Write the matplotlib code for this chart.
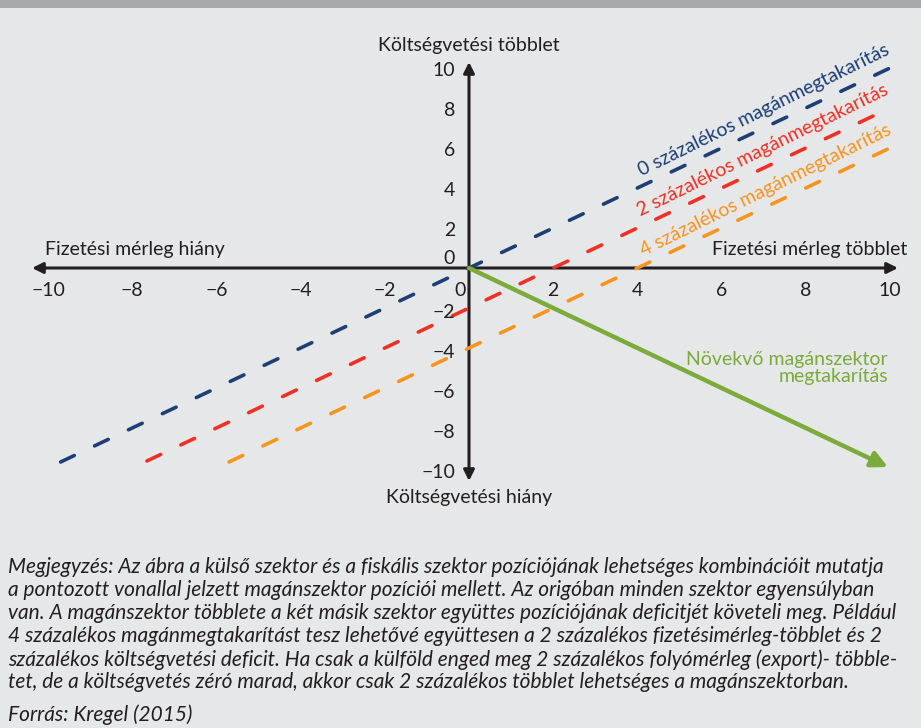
import matplotlib

matplotlib.use("Agg")
import matplotlib.pyplot as plt
from matplotlib.patches import Rectangle

# --- data --------------------------------------------------------------
TICKS = [-10, -8, -6, -4, -2, 0, 2, 4, 6, 8, 10]

# private-saving lines: 0 %, 2 % and 4 % (budget balance vs current account)
LINE_NAMES = [
    "0 százalékos magánmegtakarítás",
    "2 százalékos magánmegtakarítás",
    "4 százalékos magánmegtakarítás",
]
LINE_X = [[-9.7, 10.05], [-7.65, 10.05], [-5.7, 10.05]]
LINE_Y = [[-9.7, 10.05], [-9.65, 8.05], [-9.7, 6.05]]
LABEL_XY = [(7.0, 7.9), (6.98, 5.9), (7.05, 3.9)]

# growing private saving arrow
GREEN_X = [0.0, 9.95]
GREEN_Y = [0.0, -9.95]

NOTE = [
    "Megjegyzés: Az ábra a külső szektor és a fiskális szektor pozíciójának lehetséges kombinációit mutatja",
    "a pontozott vonallal jelzett magánszektor pozíciói mellett. Az origóban minden szektor egyensúlyban",
    "van. A magánszektor többlete a két másik szektor együttes pozíciójának deficitjét követeli meg. Például",
    "4 százalékos magánmegtakarítást tesz lehetővé együttesen a 2 százalékos fizetésimérleg-többlet és 2",
    "százalékos költségvetési deficit. Ha csak a külföld enged meg 2 százalékos folyómérleg (export)- többle-",
    "tet, de a költségvetés zéró marad, akkor csak 2 százalékos többlet lehetséges a magánszektorban.",
]
SOURCE = "Forrás: Kregel (2015)"

COLORS = ["#1d3f76", "#ee3124", "#f7941d"]
GREEN = "#7aab3b"
INK = "#231f20"
BG = "#e6e7e8"

W, H = 921, 728
OX, OY = 469, 268  # origin in pixels
SX, SY = 42.1, 20.0  # pixels per unit
FS = 14  # chart text size
NOTE_FS = 15.0

plt.rcParams["font.family"] = ["Lato", "DejaVu Sans"]

fig = plt.figure(figsize=(W / 100, H / 100), dpi=100)
fig.patch.set_facecolor(BG)
ax = fig.add_axes([0, 0, 1, 1])
ax.set_facecolor(BG)
ax.set_xlim(-OX / SX, (W - OX) / SX)
ax.set_ylim(-(H - OY) / SY, OY / SY)
ax.axis("off")

# top band
fig.patches.append(
    Rectangle((0, 1 - 8 / H), 1, 8 / H, transform=fig.transFigure,
              facecolor="#a7a9ac", edgecolor="none")
)

# axes with arrow heads
arrow = dict(arrowstyle="<|-|>", color=INK, lw=2.2, mutation_scale=16,
             shrinkA=0, shrinkB=0)
ax.annotate("", xy=((898 - OX) / SX, 0), xytext=((32 - OX) / SX, 0),
            arrowprops=arrow)
ax.annotate("", xy=(0, (OY - 62) / SY), xytext=(0, (OY - 481) / SY),
            arrowprops=arrow)

# dashed private-saving lines
for xs, ys, c in zip(LINE_X, LINE_Y, COLORS):
    ax.plot(xs, ys, color=c, lw=2.6, dashes=(4.2, 6.2),
            dash_capstyle="round", zorder=3)

for name, (lx, ly), c in zip(LINE_NAMES, LABEL_XY, COLORS):
    ax.text(lx, ly, name, color=c, fontsize=FS, rotation=26.2,
            rotation_mode="anchor", ha="center", va="center")

# growing private saving
ax.annotate("", xy=(GREEN_X[1], GREEN_Y[1]), xytext=(GREEN_X[0], GREEN_Y[0]),
            arrowprops=dict(arrowstyle="-|>", color=GREEN, lw=3.2,
                            mutation_scale=24, shrinkA=0, shrinkB=0),
            zorder=4)
ax.text((888 - OX) / SX, (OY - 368) / SY, "Növekvő magánszektor\nmegtakarítás",
        color=GREEN, fontsize=FS, ha="right", va="center", linespacing=1.05)

# tick labels
for t in TICKS:
    xt = t if t != 0 else -0.21
    ax.text(xt, -1.1, f"{t}".replace("-", "\u2212"), color=INK, fontsize=FS,
            ha="center", va="center")
for t in TICKS:
    yt = t - 0.1 if t > 0 else (0.5 if t == 0 else t - 0.2)
    ax.text(-0.33, yt, f"{t}".replace("-", "\u2212"), color=INK, fontsize=FS,
            ha="right", va="center")

# axis titles
ax.text(0, (OY - 45) / SY, "Költségvetési többlet", color=INK, fontsize=FS,
        ha="center", va="center")
ax.text(0, (OY - 498) / SY, "Költségvetési hiány", color=INK, fontsize=FS,
        ha="center", va="center")
ax.text((45 - OX) / SX, (OY - 250) / SY, "Fizetési mérleg hiány", color=INK,
        fontsize=FS, ha="left", va="center")
ax.text((907 - OX) / SX, (OY - 250) / SY, "Fizetési mérleg többlet", color=INK,
        fontsize=FS, ha="right", va="center")

# note and source
for i, line in enumerate(NOTE):
    fig.text(8 / W, 1 - (567 + 23.1 * i) / H, line, color=INK,
             fontsize=NOTE_FS, style="italic", ha="left", va="center")
fig.text(8 / W, 1 - 715 / H, SOURCE, color=INK, fontsize=NOTE_FS,
         style="italic", ha="left", va="center")

fig.savefig("out.png", dpi=100, facecolor=BG)
